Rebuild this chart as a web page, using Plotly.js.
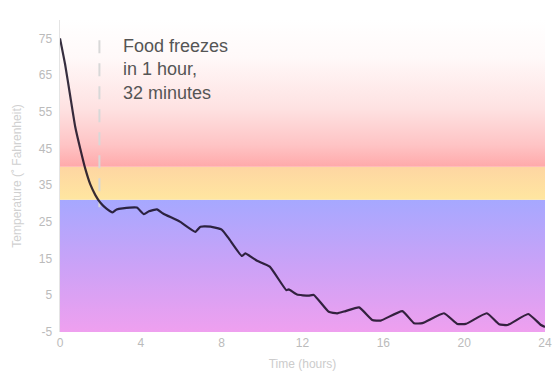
<!DOCTYPE html>
<html>
<head>
<meta charset="utf-8">
<script src="https://cdn.plot.ly/plotly-3.0.1.min.js"></script>
<style>html,body{margin:0;padding:0;background:#fff;}#chart{width:559px;height:377px;}</style>
</head>
<body>
<div id="chart"></div>
<script>
// Temperature over time (hours, °F)
const hours = [0, 0.25, 0.5, 0.75, 1.0, 1.25, 1.5, 1.75, 2.0, 2.3, 2.6, 2.8, 3.1, 3.8, 4.15, 4.4, 4.8, 5.1, 5.95, 6.7, 6.95, 7.45, 8.0, 8.35, 9.0, 9.17, 9.75, 10.38, 11.2, 11.32, 11.73, 12.3, 12.56, 13.3, 13.72, 14.13, 14.8, 15.45, 15.87, 16.94, 17.52, 17.93, 19.0, 19.66, 20.08, 21.12, 21.73, 22.15, 23.17, 23.8, 24.0];
const temps = [75, 68, 59.5, 51, 45, 39.5, 35.2, 32.3, 30.2, 28.6, 27.6, 28.4, 28.7, 28.9, 27.1, 27.9, 28.4, 27.3, 25.0, 22.3, 23.7, 23.7, 22.9, 20.5, 15.7, 16.4, 14.4, 12.8, 6.4, 6.6, 5.2, 4.9, 5.1, 0.5, 0.1, 0.7, 1.7, -1.7, -1.9, 0.7, -2.6, -2.6, 0.1, -2.8, -2.8, 0.1, -2.9, -3.1, -0.1, -3.1, -3.6];

// Temperature zones (°F): frozen, near-freezing, danger
const zoneLow = [-5, 31, 40];
const zoneHigh = [31, 40, 80];
const zoneColors = [
  [[0, '#EFA0EF'], [0.5, '#CBA2F7'], [1, '#A6A8FF']],
  [[0, '#FFE6A0'], [1, '#FED6A2']],
  [[0, '#FFA9AA'], [0.15, '#FEC4C5'], [0.4, '#FEE2E2'], [0.75, '#FFF9F9'], [1, '#FFFFFF']]
];
const timeRange = [0, 24];

// Freeze marker
const freezeHour = [1.95, 1.95];
const freezeSpan = [74.5, 29];
const noteText = 'Food freezes<br>in 1 hour,<br>32 minutes';

const xTicks = [0, 4, 8, 12, 16, 20, 24];
const yTicks = [75, 65, 55, 45, 35, 25, 15, 5, -5];

const traces = [];
for (let i = 0; i < zoneLow.length; i++) {
  traces.push({
    type: 'scatter', mode: 'none',
    x: [timeRange[0], timeRange[1], timeRange[1], timeRange[0], timeRange[0]],
    y: [zoneLow[i], zoneLow[i], zoneHigh[i], zoneHigh[i], zoneLow[i]],
    fill: 'toself',
    fillgradient: {type: 'vertical', colorscale: zoneColors[i], start: zoneLow[i], stop: zoneHigh[i]},
    hoverinfo: 'skip', showlegend: false
  });
}
traces.push({
  type: 'scatter', mode: 'lines',
  x: freezeHour, y: freezeSpan,
  line: {color: '#d8d8d8', width: 2, dash: '13px,10px'},
  hoverinfo: 'skip', showlegend: false
});
traces.push({
  type: 'scatter', mode: 'lines',
  x: hours, y: temps,
  line: {color: 'rgba(20,10,30,0.85)', width: 2.2, shape: 'spline', smoothing: 0.4},
  showlegend: false
});

const layout = {
  width: 559, height: 377,
  margin: {l: 60, r: 14, t: 20, b: 45},
  paper_bgcolor: '#fff', plot_bgcolor: '#fff',
  font: {family: 'Liberation Sans, Arial, sans-serif', color: '#bbb', size: 12},
  xaxis: {
    range: timeRange, tickvals: xTicks, ticktext: xTicks.map(String),
    showgrid: false, zeroline: false, showline: false, ticks: '',
    ticklabelstandoff: 2,
    tickfont: {size: 12, color: '#bbb'},
    title: {text: 'Time (hours)', font: {size: 12, color: '#ccc'}, standoff: 10}
  },
  yaxis: {
    range: [-5, 80], tickvals: yTicks, ticktext: yTicks.map(String),
    showgrid: false, zeroline: false, showline: true, linecolor: '#e4e4e4', linewidth: 1.5, ticks: '',
    ticklabelstandoff: 4,
    tickfont: {size: 12, color: '#bbb'},
    title: {text: 'Temperature (˚ Fahrenheit)', font: {size: 12, color: '#d0d0d0'}, standoff: 14}
  },
  annotations: [{
    x: 3.0, y: 76.3, xref: 'x', yref: 'y', xanchor: 'left', yanchor: 'top',
    text: noteText, showarrow: false, align: 'left',
    font: {size: 18, color: '#555', family: 'Liberation Sans, Arial, sans-serif'}
  }]
};

Plotly.newPlot('chart', traces, layout, {displayModeBar: false, staticPlot: true});
</script>
</body>
</html>
